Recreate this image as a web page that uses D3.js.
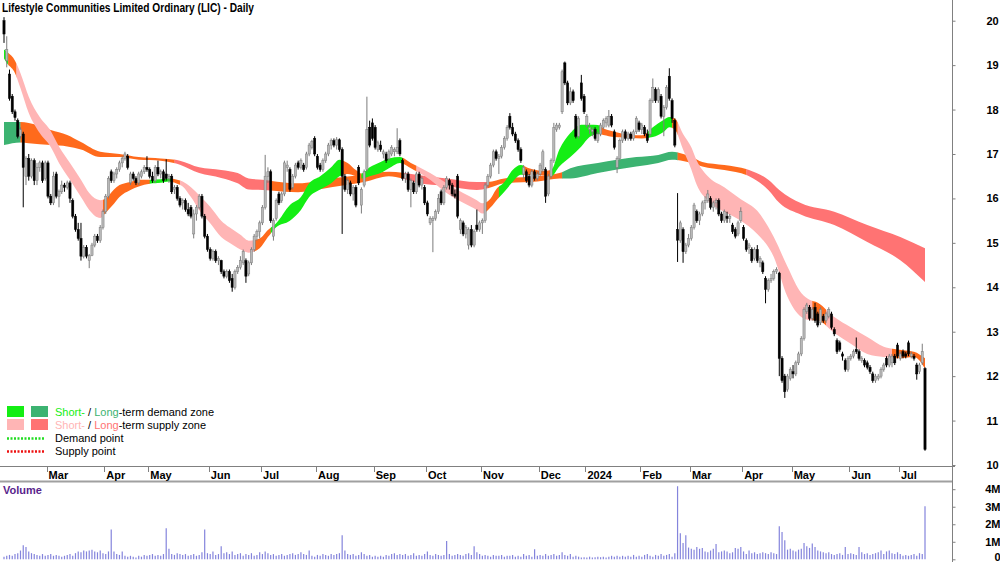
<!DOCTYPE html>
<html>
<head>
<meta charset="utf-8">
<script src="https://cdn.jsdelivr.net/npm/d3@7"></script>
<style>
  body { margin: 0; background: #fff; }
  svg { display: block; font-family: "Liberation Sans", Arial, sans-serif; }
</style>
</head>
<body>
<svg id="chart" width="1000" height="562"></svg>
<script>
// month ticks: label + index of first trading day in that month
var monthLabels = ["Mar","Apr","May","Jun","Jul","Aug","Sep","Oct","Nov","Dec","2024","Feb","Mar","Apr","May","Jun","Jul"]
var monthStarts = [16,37,53,75,94,114,135,154,174,195,212,232,250,269,287,308,326]

var priceTicks = [10,11,12,13,14,15,16,17,18,19,20]
var volTicks = [0,1,2,3,4]  // millions

// daily candles [open, high, low, close], Feb 2023 .. Jul 2024
var candles = [
  [20.0,20.08,19.5,19.7],[19.1,19.65,18.95,19.35],[18.8,18.9,18.2,18.25],[18.3,18.35,17.9,17.95],[17.95,18.0,17.75,17.82],
  [17.75,17.8,17.35,17.4],[17.4,17.6,17.35,17.55],[17.45,17.5,15.8,16.7],[16.5,16.95,16.3,16.9],[16.9,17.0,16.4,16.5],
  [16.5,16.9,16.45,16.85],[16.85,16.9,16.3,16.4],[16.4,16.8,16.3,16.7],[16.7,16.85,16.6,16.8],[16.8,16.85,16.35,16.4],
  [16.45,16.85,16.4,16.8],[16.8,16.85,16.0,16.05],[16.05,16.1,15.85,15.9],[15.9,16.6,15.85,16.5],[16.55,16.6,16.0,16.05],
  [16.05,16.2,15.8,16.15],[16.15,16.4,16.1,16.3],[16.3,16.35,16.15,16.25],[16.25,16.4,16.2,16.35],[16.35,16.4,15.9,16.0],
  [15.95,16.0,15.55,15.6],[15.6,15.65,15.25,15.3],[15.3,15.45,15.05,15.1],[15.1,15.45,14.6,14.7],[14.7,14.95,14.65,14.9],
  [14.9,14.95,14.65,14.7],[14.6,14.75,14.43,14.72],[14.72,15.0,14.7,14.95],[14.95,15.2,14.9,15.15],[15.15,15.2,15.0,15.05],
  [15.05,15.4,15.0,15.35],[15.35,15.75,15.3,15.7],[15.7,16.1,15.65,16.05],[16.05,16.5,16.0,16.45],[16.6,16.65,16.35,16.4],
  [16.4,16.6,16.35,16.55],[16.55,16.7,16.45,16.65],[16.65,16.85,16.6,16.8],[16.8,16.95,16.7,16.9],[16.9,17.05,16.85,17.0],
  [16.95,17.0,16.65,16.7],[16.35,16.6,16.3,16.55],[16.55,16.6,16.4,16.45],[16.45,16.5,16.3,16.35],[16.35,16.6,16.3,16.55],
  [16.5,16.65,16.45,16.6],[16.6,16.75,16.55,16.7],[16.7,16.95,16.6,16.65],[16.65,16.7,16.45,16.5],[16.5,16.6,16.35,16.4],
  [16.4,16.75,16.35,16.7],[16.7,16.85,16.5,16.55],[16.55,16.65,16.45,16.6],[16.6,16.65,16.35,16.4],[16.55,16.88,16.4,16.45],
  [16.45,16.55,16.35,16.5],[16.5,16.55,16.1,16.15],[16.2,16.3,16.1,16.25],[16.25,16.3,15.95,16.0],[16.0,16.05,15.8,15.85],
  [15.9,16.0,15.75,15.95],[15.95,16.0,15.7,15.75],[15.75,15.9,15.6,15.65],[15.8,15.85,15.55,15.6],[15.2,15.75,15.1,15.65],
  [15.65,15.85,15.5,15.8],[15.8,16.1,15.75,16.05],[16.05,16.1,15.55,15.6],[15.6,15.65,15.1,15.15],[15.15,15.2,14.8,14.85],
  [14.85,14.9,14.6,14.65],[14.65,14.85,14.6,14.8],[14.8,14.85,14.55,14.6],[14.6,14.7,14.5,14.65],[14.6,14.62,14.3,14.35],
  [14.35,14.4,14.2,14.25],[14.25,14.4,14.2,14.35],[14.35,14.4,14.1,14.15],[14.2,14.3,13.9,14.0],[14.0,14.4,13.95,14.35],
  [14.35,14.5,14.3,14.45],[14.45,14.7,14.4,14.6],[14.55,14.85,14.5,14.8],[14.6,14.65,14.1,14.25],[14.3,14.6,14.25,14.55],
  [14.55,14.9,14.5,14.85],[14.85,15.2,14.8,15.15],[15.15,15.3,15.05,15.25],[15.25,15.5,15.1,15.45],[15.45,15.85,15.4,15.8],
  [15.8,16.98,15.75,16.5],[16.5,16.7,16.35,16.6],[16.6,16.65,15.45,15.5],[15.15,15.55,15.05,15.5],[15.55,16.0,15.5,15.95],
  [16.1,16.15,15.85,15.9],[15.95,16.15,15.9,16.1],[16.1,16.85,16.05,16.8],[16.7,16.85,16.6,16.75],[16.65,16.7,16.15,16.2],
  [16.25,16.55,16.2,16.5],[16.5,16.8,16.45,16.75],[16.8,16.85,16.65,16.7],[16.7,16.9,16.65,16.85],[16.75,16.8,16.6,16.65],
  [16.7,17.05,16.65,17.0],[17.0,17.25,16.95,17.2],[17.15,17.32,17.1,17.28],[17.35,17.4,16.95,17.0],[16.95,17.0,16.65,16.7],
  [16.75,16.8,16.6,16.65],[16.65,16.9,16.6,16.85],[16.85,17.05,16.8,17.0],[17.0,17.25,16.95,17.2],[17.2,17.35,17.1,17.3],
  [17.3,17.35,17.15,17.2],[17.2,17.38,17.1,17.32],[17.32,17.35,17.05,17.1],[17.1,17.15,15.2,16.5],[16.5,16.55,16.15,16.2],
  [16.2,16.45,16.1,16.4],[16.35,16.4,16.05,16.1],[16.1,16.3,15.95,16.25],[16.25,16.3,15.8,15.85],[16.7,16.75,16.3,16.35],
  [15.85,16.25,15.66,16.2],[16.3,16.65,16.25,16.6],[16.65,18.29,16.6,17.55],[17.6,17.75,17.15,17.2],[17.7,17.8,17.3,17.35],
  [17.6,17.65,17.1,17.15],[17.1,17.3,17.05,17.25],[17.2,17.3,17.05,17.1],[17.0,17.1,16.9,17.05],[17.0,17.05,16.8,16.85],
  [16.9,17.1,16.85,17.05],[17.0,17.2,16.95,17.15],[17.05,17.15,16.95,17.1],[17.05,17.58,17.0,17.15],[17.3,17.35,16.95,17.0],
  [16.85,16.9,16.4,16.45],[16.45,16.6,16.35,16.55],[16.55,16.6,16.15,16.2],[16.2,16.45,15.8,16.4],[16.35,16.4,16.1,16.15],
  [16.15,16.6,16.1,16.55],[16.55,16.6,16.25,16.3],[16.3,16.5,16.2,16.45],[16.25,16.3,15.85,15.9],[15.9,15.95,15.6,15.65],
  [15.45,15.6,15.4,15.55],[15.5,15.6,14.79,15.55],[15.55,15.75,15.5,15.7],[15.7,16.1,15.65,16.0],[16.15,16.2,15.85,15.9],
  [15.9,16.3,15.85,16.25],[16.25,16.5,16.2,16.45],[16.4,16.45,16.2,16.3],[16.3,16.35,16.05,16.1],[16.1,16.2,16.0,16.05],
  [16.5,16.55,15.55,15.6],[15.3,15.55,15.2,15.5],[15.45,15.5,15.15,15.2],[15.2,15.4,15.1,15.35],[14.95,15.35,14.85,15.3],
  [15.3,15.4,14.9,14.95],[14.95,15.3,14.9,15.25],[15.4,15.75,15.25,15.3],[15.3,15.5,15.25,15.45],[15.45,15.55,15.2,15.5],
  [15.5,16.35,15.45,16.3],[16.3,16.55,16.25,16.5],[16.5,16.8,16.45,16.75],[16.75,17.1,16.7,17.05],[17.05,17.1,16.85,16.9],
  [16.9,17.0,16.55,16.95],[16.95,17.2,16.9,17.15],[17.15,17.4,17.1,17.35],[17.35,17.65,17.3,17.6],[17.85,17.92,17.55,17.6],
  [17.6,17.7,17.4,17.45],[17.45,17.5,17.25,17.3],[17.3,17.35,17.05,17.1],[17.1,17.15,16.8,16.85],[16.55,16.75,16.45,16.7],
  [16.6,16.65,16.35,16.4],[16.5,16.55,16.25,16.3],[16.3,16.65,16.25,16.6],[16.6,16.65,16.4,16.45],[16.45,16.6,16.4,16.55],
  [16.55,16.8,16.5,16.75],[16.65,17.1,16.6,17.05],[16.65,16.7,15.9,16.05],[16.1,16.55,16.05,16.5],[16.5,16.9,16.45,16.85],
  [16.85,17.7,16.8,17.6],[17.55,17.7,17.5,17.65],[17.6,17.7,17.55,17.65],[17.95,18.9,17.9,18.85],[19.05,19.08,18.55,18.6],
  [18.6,18.65,18.1,18.15],[18.15,18.5,18.1,18.4],[18.4,18.45,18.15,18.2],[17.85,17.9,17.35,17.4],[17.4,17.85,17.35,17.8],
  [18.6,18.78,18.2,18.25],[18.3,18.35,17.9,17.95],[17.65,17.9,17.6,17.85],[17.55,17.7,17.45,17.6],[17.5,17.6,17.4,17.55],
  [17.55,17.6,17.3,17.35],[17.3,17.5,17.25,17.45],[17.45,17.7,17.4,17.65],[17.6,17.8,17.55,17.75],[17.7,17.85,17.6,17.8],
  [17.65,17.99,17.6,17.85],[17.85,17.9,17.6,17.65],[17.5,17.55,17.1,17.15],[16.7,16.95,16.57,16.9],[16.9,17.35,16.85,17.3],
  [17.3,17.55,17.25,17.5],[17.5,17.55,17.3,17.35],[17.35,17.5,17.3,17.45],[17.45,17.5,17.3,17.35],[17.35,17.55,17.3,17.5],
  [17.5,17.85,17.45,17.8],[17.7,17.75,17.5,17.55],[17.55,17.7,17.45,17.65],[17.6,17.65,17.4,17.45],[17.45,17.55,17.25,17.3],
  [17.45,18.25,17.4,18.2],[18.2,18.7,18.15,18.5],[18.45,18.5,18.15,18.2],[18.2,18.5,18.15,18.45],[18.3,18.35,17.8,17.85],
  [17.85,18.1,17.4,18.05],[18.05,18.55,18.0,18.5],[18.75,18.93,18.2,18.25],[18.2,18.25,17.7,17.8],[17.75,17.8,17.15,17.2],
  [15.3,16.12,14.57,15.06],[15.05,15.5,15.0,15.45],[15.3,15.35,14.55,14.8],[14.8,15.0,14.75,14.95],[14.95,15.2,14.9,15.1],
  [15.1,15.4,15.05,15.35],[15.35,15.9,15.3,15.85],[15.7,15.75,15.45,15.5],[15.5,15.7,15.4,15.65],[15.65,15.95,15.6,15.9],
  [15.9,16.05,15.75,15.95],[15.95,16.19,15.9,16.1],[16.0,16.05,15.75,15.8],[15.8,15.95,15.7,15.9],[15.9,16.0,15.75,15.95],
  [15.95,16.0,15.6,15.65],[15.65,15.7,15.45,15.5],[15.5,15.75,15.45,15.7],[15.6,15.7,15.45,15.55],[15.55,15.65,15.45,15.6],
  [15.4,15.45,15.2,15.25],[15.3,15.35,15.1,15.15],[15.2,15.5,15.15,15.45],[15.5,15.8,15.45,15.7],[15.35,15.4,15.05,15.1],
  [15.05,15.1,14.8,14.85],[14.9,15.0,14.75,14.95],[14.85,14.9,14.55,14.6],[14.65,14.9,14.6,14.85],[14.85,14.95,14.55,14.6],
  [14.55,14.7,14.45,14.65],[14.55,14.6,14.3,14.35],[14.2,14.25,13.64,13.95],[13.95,14.2,13.9,14.15],[14.15,14.3,14.1,14.2],
  [14.2,14.4,14.15,14.35],[14.35,14.45,14.3,14.4],[14.32,14.35,12.0,12.4],[12.4,12.45,11.85,11.9],[12.0,12.05,11.51,11.65],
  [11.7,12.05,11.65,12.0],[11.95,12.2,11.9,12.15],[12.1,12.25,11.95,12.05],[12.05,12.35,12.0,12.3],[12.3,12.55,12.25,12.5],
  [12.5,12.9,12.45,12.85],[12.85,13.55,12.8,13.5],[13.45,13.65,13.4,13.6],[13.55,13.6,13.25,13.3],[13.3,13.55,13.25,13.5],
  [13.55,13.65,13.2,13.25],[13.4,13.45,13.1,13.15],[13.2,13.55,13.15,13.5],[13.35,13.4,13.2,13.25],[13.25,13.45,13.2,13.4],
  [13.35,13.55,13.3,13.5],[13.4,13.45,13.05,13.1],[13.05,13.1,12.9,12.95],[12.8,12.85,12.5,12.55],[12.75,12.8,12.55,12.6],
  [12.5,12.55,12.35,12.45],[12.35,12.4,12.1,12.15],[12.15,12.45,12.1,12.4],[12.4,12.5,12.35,12.45],[12.45,12.6,12.4,12.55],
  [12.6,12.87,12.5,12.55],[12.55,12.6,12.35,12.4],[12.35,12.45,12.3,12.4],[12.35,12.4,12.2,12.25],[12.3,12.35,12.15,12.2],
  [12.2,12.25,12.05,12.1],[12.05,12.1,11.85,11.9],[11.9,12.05,11.85,12.0],[11.95,12.05,11.9,12.0],[12.0,12.2,11.95,12.15],
  [12.15,12.3,12.1,12.25],[12.4,12.45,12.2,12.25],[12.25,12.5,12.2,12.45],[12.3,12.5,12.2,12.45],[12.45,12.5,12.25,12.3],
  [12.7,12.75,12.4,12.45],[12.4,12.55,12.35,12.5],[12.55,12.6,12.4,12.45],[12.5,12.55,12.4,12.45],[12.75,12.8,12.45,12.5],
  [12.45,12.55,12.4,12.5],[12.45,12.5,12.35,12.4],[12.25,12.3,11.92,12.05],[12.1,12.3,12.05,12.25],[12.3,12.73,12.25,12.55],
  [12.17,12.2,10.32,10.35]
]

// daily volume, millions of shares
var volumes = [
  0.15,0.2,0.25,0.2,0.3,0.35,0.5,0.8,0.7,0.45, 0.35,0.3,0.25,0.2,0.3,0.2,0.25,0.3,0.2,0.25,
  0.2,0.15,0.2,0.25,0.3,0.2,0.35,0.45,0.4,0.5, 0.45,0.5,0.55,0.45,0.4,0.5,0.35,0.3,0.45,1.7,
  0.45,0.3,0.25,0.45,0.2,0.15,0.2,0.15,0.1,0.2, 0.15,0.25,0.2,0.25,0.3,0.2,0.25,0.2,0.3,1.77,
  0.6,0.3,0.25,0.35,0.3,0.25,0.3,0.2,0.25,0.3, 0.2,0.25,0.4,1.7,0.35,0.3,0.45,0.25,0.3,0.74,
  0.35,0.4,0.3,0.45,0.25,0.3,0.35,0.2,0.3,0.25, 0.35,0.2,0.25,0.4,0.3,0.45,0.35,0.25,0.3,0.2,
  0.25,0.3,0.2,0.25,0.3,0.35,0.25,0.3,0.4,0.3, 0.25,0.5,0.2,0.15,0.25,0.2,0.3,0.25,0.2,0.3,
  0.25,0.3,0.35,1.37,0.5,0.3,0.25,0.3,0.2,0.25, 0.4,0.3,0.2,0.25,0.15,0.2,0.15,0.2,0.15,0.25,
  0.2,0.3,0.35,0.25,0.3,0.25,0.3,0.2,0.25,0.35, 0.2,0.25,0.2,0.3,0.45,0.25,0.2,0.3,0.25,0.2,
  0.25,1.05,0.3,0.2,0.25,0.3,0.25,0.2,0.3,0.35, 0.25,0.74,0.4,0.3,0.2,0.25,0.2,0.15,0.25,0.2,
  0.2,0.25,0.15,0.2,0.2,0.25,0.15,0.2,0.15,0.3, 0.2,0.25,0.15,0.57,0.2,0.25,0.2,0.3,0.2,0.25,
  0.3,0.2,0.25,0.4,0.25,0.2,0.3,0.15,0.2,0.15, 0.1,0.12,0.1,0.15,0.1,0.12,0.15,0.12,0.15,0.1,
  0.15,0.2,0.15,0.2,0.15,0.2,0.15,0.2,0.15,0.25, 0.15,0.2,0.15,0.25,0.3,0.2,0.15,0.25,0.2,0.3,
  0.2,0.25,0.3,0.15,0.35,4.17,1.49,0.93,1.37,0.67, 0.6,0.55,0.7,0.6,0.65,0.45,0.4,0.5,0.6,0.88,
  0.4,0.45,0.5,0.45,0.35,0.4,0.65,0.6,0.7,0.45, 0.3,0.5,0.35,0.4,0.3,0.35,0.4,0.35,0.3,0.4,
  0.35,0.3,1.89,1.56,1.09,0.55,0.6,0.5,0.45,0.55, 0.6,0.93,0.75,0.65,0.9,0.7,0.5,0.45,0.4,0.35,
  0.4,0.3,0.25,0.3,0.35,0.25,0.7,0.3,0.35,0.3, 0.25,0.7,0.4,0.3,0.35,0.25,0.3,0.35,0.4,0.5,
  0.3,0.45,0.5,0.35,0.3,0.4,0.3,0.2,0.25,0.2, 0.25,0.3,0.2,0.35,0.3,3.03
]

// short-term ribbon edges [day index, upper, lower]
var shortRibbon = [
  [0,19.35,19.15],[1,19.3,19.05],[4,19.1,18.82],[6,18.82,18.48],[9,18.29,17.92],[13,17.83,17.47],
  [17,17.52,17.16],[20,17.17,16.8],[24,16.8,16.42],[28,16.42,16.03],[31,16.12,15.74],[35,15.96,15.56],
  [37,16.0,15.68],[40,16.2,15.88],[42,16.3,16.03],[46,16.37,16.19],[49,16.42,16.27],[53,16.42,16.33],
  [57,16.43,16.35],[60,16.45,16.38],[63,16.42,16.33],[65,16.38,16.27],[68,16.25,16.03],[71,16.07,15.74],
  [75,15.81,15.44],[79,15.5,15.13],[82,15.35,15.0],[86,15.18,14.85],[89,15.05,14.78],[93,15.1,14.88],
  [96,15.29,15.13],[99,15.44,15.35],[104,15.85,15.5],[108,16.03,15.74],[111,16.34,16.03],[115,16.5,16.2],
  [119,16.7,16.34],[122,16.87,16.5],[125,16.8,16.55],[128,16.64,16.5],[130,16.56,16.45],[133,16.7,16.5],
  [137,16.82,16.57],[140,16.9,16.68],[144,16.93,16.8],[148,16.8,16.68],[155,16.57,16.42],[161,16.34,16.12],
  [167,16.12,15.9],[172,15.96,15.74],[174,15.89,15.66],[177,16.0,15.8],[179,16.2,15.95],[182,16.37,16.15],
  [185,16.64,16.37],[188,16.75,16.53],[191,16.68,16.53],[196,16.62,16.52],[199,16.64,16.5],[202,17.1,16.72],
  [206,17.47,16.93],[210,17.66,17.17],[213,17.66,17.38],[216,17.65,17.45],[218,17.58,17.43],[222,17.5,17.38],
  [228,17.43,17.36],[232,17.42,17.35],[236,17.6,17.38],[240,17.77,17.5],[242,17.83,17.6],[244,17.8,17.55],
  [247,17.45,17.1],[250,17.15,16.65],[252,16.85,16.3],[256,16.5,15.95],[262,16.25,15.7],[268,15.98,15.5],
  [274,15.72,15.2],[280,15.13,14.68],[285,14.46,13.78],[290,13.87,13.33],[293,13.72,13.26],[296,13.65,13.25],
  [302,13.33,12.97],[308,13.1,12.73],[314,12.88,12.5],[320,12.66,12.43],[325,12.6,12.4],[331,12.55,12.43],
  [335,12.4,12.17]
]

// long-term ribbon edges [day index, upper, lower]
var longRibbon = [
  [0,17.72,17.2],[6,17.72,17.26],[9,17.7,17.24],[17,17.54,17.2],[23,17.43,17.17],[28,17.27,17.1],
  [35,17.05,16.93],[42,17.0,16.93],[49,16.93,16.87],[57,16.9,16.85],[64,16.85,16.76],[71,16.7,16.57],
  [79,16.64,16.46],[85,16.57,16.34],[89,16.45,16.2],[94,16.42,16.19],[107,16.34,16.14],[119,16.45,16.25],
  [131,16.53,16.37],[140,16.6,16.5],[145,16.58,16.45],[150,16.53,16.36],[161,16.45,16.28],[172,16.37,16.19],
  [176,16.37,16.23],[182,16.45,16.34],[194,16.5,16.38],[202,16.57,16.45],[206,16.68,16.45],[216,16.8,16.57],
  [223,16.87,16.65],[230,16.93,16.72],[238,16.98,16.8],[243,17.05,16.87],[250,16.93,16.8],[254,16.82,16.72],
  [262,16.75,16.64],[271,16.64,16.5],[278,16.42,16.19],[282,16.19,15.9],[290,15.89,15.63],[302,15.7,15.4],
  [314,15.4,15.02],[326,15.13,14.61],[335,14.88,14.12]
]

// zone colouring runs [from index, to index, zone]
var shortZones = [
  [0,1.5,"sd"],[1.5,4.5,"n"],[4.5,36,"ss"],[36,53,"n"],[53,61,"sd"],[61,64,"n"],[64,91,"ss"],[91,97,"n"],
  [97,123,"sd"],[123,130,"n"],[130,145,"sd"],[145,150,"n"],[150,175,"ss"],[175,180,"n"],[180,189,"sd"],
  [189,199,"n"],[199,217,"sd"],[217,234,"n"],[234,243,"sd"],[243,245,"n"],[245,294,"ss"],[294,299,"n"],
  [299,323,"ss"],[323,336,"n"]
]
var longZones = [
  [0,6,"ld"],[6,62,"n"],[62,97,"ls"],[97,145,"n"],[145,176,"ls"],[176,203,"n"],[203,245,"ld"],[245,270,"n"],[270,336,"ls"]
]

var zoneColor = { sd: "#14ee14", ld: "#3cb371", ss: "#ffb5b5", ls: "#ff7373", n: "#ff6a1c" }

var svg = d3.select('#chart')

var x = d3.scaleLinear().domain([0, candles.length - 1]).range([4, 925])
var y = d3.scaleLinear().domain([10, 20]).range([465, 20.7])
var yVol = d3.scaleLinear().domain([0, 4]).range([559.3, 489.2])

svg.append('rect').attr('width', 1000).attr('height', 562).attr('fill', '#fff')

// ribbons, coloured by zone with clip rects
function drawRibbon(data, zones, name) {
  var area = d3.area()
    .x(function(d) { return x(d[0]) })
    .y0(function(d) { return y(d[2]) })
    .y1(function(d) { return y(d[1]) })
    .curve(d3.curveMonotoneX)
  var defs = svg.append('defs')
  var g = svg.append('g').attr('class', name)
  zones.forEach(function(z, i) {
    var id = name + '-clip-' + i
    defs.append('clipPath').attr('id', id)
      .append('rect')
      .attr('x', x(z[0])).attr('y', 0)
      .attr('width', x(z[1]) - x(z[0]) + 0.3).attr('height', 470)
    g.append('path')
      .attr('d', area(data))
      .attr('fill', zoneColor[z[2]])
      .attr('clip-path', 'url(#' + id + ')')
  })
}
drawRibbon(longRibbon, longZones, 'long')
drawRibbon(shortRibbon, shortZones, 'short')

// candles
var cg = svg.append('g').attr('class', 'candles')
var c = cg.selectAll('g').data(candles).enter().append('g')
c.append('line')
  .attr('x1', function(d, i) { return x(i) }).attr('x2', function(d, i) { return x(i) })
  .attr('y1', function(d) { return y(d[1]) }).attr('y2', function(d) { return y(d[2]) })
  .attr('stroke', function(d) { return d[3] >= d[0] ? '#7c7c7c' : '#000' })
  .attr('stroke-width', 1)
c.append('rect')
  .attr('x', function(d, i) { return x(i) - 1.1 })
  .attr('width', 2.2)
  .attr('y', function(d) { return y(Math.max(d[0], d[3])) })
  .attr('height', function(d) { return Math.max(0.8, Math.abs(y(d[0]) - y(d[3]))) })
  .attr('fill', function(d) { return d[3] >= d[0] ? '#b8b8b8' : '#000' })
  .attr('stroke', function(d) { return d[3] >= d[0] ? '#7c7c7c' : '#000' })
  .attr('stroke-width', 0.5)

// volume bars
svg.append('g').attr('class', 'volume')
  .selectAll('line').data(volumes).enter().append('line')
  .attr('x1', function(d, i) { return x(i) }).attr('x2', function(d, i) { return x(i) })
  .attr('y1', yVol(0)).attr('y2', function(d) { return yVol(d) })
  .attr('stroke', '#8484dc').attr('stroke-width', 1.2)

// frame lines
svg.append('line').attr('x1', 952.5).attr('x2', 952.5).attr('y1', 0).attr('y2', 562)
  .attr('stroke', '#808080').attr('stroke-width', 1)
svg.append('line').attr('x1', 0).attr('x2', 955).attr('y1', 466.5).attr('y2', 466.5)
  .attr('stroke', '#808080').attr('stroke-width', 1)
svg.append('line').attr('x1', 0).attr('x2', 952).attr('y1', 481.5).attr('y2', 481.5)
  .attr('stroke', '#a0a0a0').attr('stroke-width', 2)

// price axis
var yAxis = svg.append('g').attr('transform', 'translate(952.5,0)')
  .call(d3.axisRight(y).tickValues(priceTicks).tickSize(3).tickPadding(31).tickFormat(d3.format('d')))
yAxis.select('.domain').remove()
yAxis.selectAll('line').attr('stroke', '#808080')
yAxis.selectAll('text').attr('font-size', 11).attr('font-weight', 'bold')
  .attr('font-family', '"Liberation Sans", Arial, sans-serif').attr('fill', '#000')

// volume axis
var vAxis = svg.append('g').attr('transform', 'translate(952.5,0)')
  .call(d3.axisRight(yVol).tickValues(volTicks).tickSize(3).tickPadding(45)
    .tickFormat(function(d) { return d === 0 ? '0' : d + 'M' }))
vAxis.select('.domain').remove()
vAxis.selectAll('line').attr('stroke', '#808080')
vAxis.selectAll('text').attr('font-size', 11).attr('font-weight', 'bold').attr('text-anchor', 'end')
  .attr('font-family', '"Liberation Sans", Arial, sans-serif').attr('fill', '#000')
  .attr('dy', function(d) { return d === 0 ? '0.1em' : '0.32em' })

// month axis
var mg = svg.append('g').attr('class', 'months')
mg.selectAll('line').data(monthStarts).enter().append('line')
  .attr('x1', function(d) { return Math.round(x(d - 0.5)) + 0.5 })
  .attr('x2', function(d) { return Math.round(x(d - 0.5)) + 0.5 })
  .attr('y1', 466.5).attr('y2', 472)
  .attr('stroke', '#808080')
mg.selectAll('text').data(monthStarts).enter().append('text')
  .attr('x', function(d) { return x(d - 0.5) + 2 })
  .attr('y', 479)
  .attr('font-size', 11).attr('font-weight', 'bold')
  .text(function(d, i) { return monthLabels[i] })

// title
svg.append('text').attr('x', 2).attr('y', 11.5)
  .attr('font-size', 12).attr('font-weight', 'bold')
  .attr('textLength', 252).attr('lengthAdjust', 'spacingAndGlyphs')
  .text('Lifestyle Communities Limited Ordinary (LIC) - Daily')

// volume label
svg.append('text').attr('x', 3).attr('y', 493.5)
  .attr('font-size', 11).attr('font-weight', 'bold').attr('fill', '#5a1f8c')
  .text('Volume')

// legend
var lg = svg.append('g').attr('class', 'legend').attr('font-size', 11)
lg.append('rect').attr('x', 7).attr('y', 406).attr('width', 17).attr('height', 11).attr('fill', zoneColor.sd)
lg.append('rect').attr('x', 31).attr('y', 406).attr('width', 17).attr('height', 11).attr('fill', zoneColor.ld)
lg.append('rect').attr('x', 7).attr('y', 419).attr('width', 17).attr('height', 11).attr('fill', zoneColor.ss)
lg.append('rect').attr('x', 31).attr('y', 419).attr('width', 17).attr('height', 11).attr('fill', zoneColor.ls)
lg.append('line').attr('x1', 7).attr('x2', 45).attr('y1', 438.5).attr('y2', 438.5)
  .attr('stroke', '#22dd22').attr('stroke-width', 2.5).attr('stroke-dasharray', '2,1.5')
lg.append('line').attr('x1', 7).attr('x2', 45).attr('y1', 451.5).attr('y2', 451.5)
  .attr('stroke', '#ee1111').attr('stroke-width', 2.5).attr('stroke-dasharray', '2,1.5')

var t1 = lg.append('text').attr('x', 55).attr('y', 415.5)
t1.append('tspan').attr('fill', zoneColor.sd).text('Short-')
t1.append('tspan').text(' / ')
t1.append('tspan').attr('fill', zoneColor.ld).text('Long')
t1.append('tspan').text('-term demand zone')
var t2 = lg.append('text').attr('x', 55).attr('y', 428.5)
t2.append('tspan').attr('fill', zoneColor.ss).text('Short-')
t2.append('tspan').text(' / ')
t2.append('tspan').attr('fill', zoneColor.ls).text('Long')
t2.append('tspan').text('-term supply zone')
lg.append('text').attr('x', 55).attr('y', 442).text('Demand point')
lg.append('text').attr('x', 55).attr('y', 455).text('Supply point')
</script>
</body>
</html>
